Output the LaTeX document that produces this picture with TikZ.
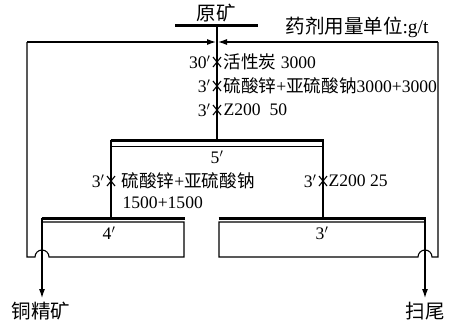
\documentclass[tikz,border=0pt]{standalone}
\usepackage{fontspec}
\setmainfont{Liberation Serif}
\newfontfamily\cjk{Noto Sans CJK SC}
\usetikzlibrary{arrows.meta}
\newcommand{\zh}[1]{{\cjk #1}}
\begin{document}
\begin{tikzpicture}[x=1pt,y=-1pt,
  line width=1.1pt,
  bar/.style={line width=3pt},
  thin bar/.style={line width=1pt},
  txt/.style={inner sep=0pt,font=\fontsize{17.6}{21}\selectfont},
  big/.style={inner sep=0pt,font=\fontsize{19.5}{23}\selectfont},
  arr/.style={-{Latex[length=9pt,width=6pt]}},
  crossmark/.style={line width=1.1pt}]
\useasboundingbox (0,0) rectangle (455,322);
% coordinates
\coordinate (fl) at (175,25); \coordinate (fr) at (258,25);
\coordinate (ftop) at (217,25);
\coordinate (cbar) at (217,140);
\coordinate (c5l) at (111,140); \coordinate (c5r) at (323,140);
\coordinate (c5lt) at (111,146); \coordinate (c5rt) at (323,146);
\coordinate (c4tl) at (42,218); \coordinate (c4tr) at (184,218);
\coordinate (c3tl) at (219,218); \coordinate (c3tr) at (425,218);
\coordinate (c5ld) at (111,218); \coordinate (c5rd) at (323,218);
\coordinate (conc) at (42,298); \coordinate (tail) at (425,298);
\coordinate (lin) at (216,42); \coordinate (rin) at (218,42);
% feed
\node[big] (feed) at (216,13) {\zh{原矿}};
\draw[bar] (fl) -- (fr);
\draw (ftop) -- (cbar);
\node[big,anchor=west] (unit) at (285,27) {\zh{药剂用量单位}:g/t};
% cell 5
\draw[bar] ([xshift=-0.5pt]c5l) -- ([xshift=0.5pt]c5r);
\draw[thin bar] (c5lt) -- (c5rt);
\draw (c5l) -- (c5ld);
\draw (c5r) -- (c5rd);
\node[txt] (l5) at (217,157) {5$'$};
% cell 4
\draw[bar] ([xshift=-0.5pt]c4tl) -- ([xshift=0.5pt]c4tr);
\draw (42,222) -- (184,222) -- (184,257) -- (49,257)
  arc[start angle=0,end angle=180,radius=7pt] -- (27,257) -- (27,42) coordinate (lc);
\draw[arr] (lc) -- (lin);
\node[txt] (l4) at (109,233) {4$'$};
% cell 3
\draw[bar] ([xshift=-0.5pt]c3tl) -- ([xshift=0.5pt]c3tr);
\draw (425,222) -- (219,222) -- (219,257) -- (418,257)
  arc[start angle=180,end angle=0,radius=7pt] -- (438,257) -- (438,42) coordinate (rc);
\draw[arr] (rc) -- (rin);
\node[txt] (l3) at (322,233) {3$'$};
% products
\draw[arr] (c4tl) -- (conc);
\draw[arr] (c3tr) -- (tail);
\node[big] (concl) at (41,311) {\zh{铜精矿}};
\node[big] (taill) at (425,311) {\zh{扫尾}};
% reagent marks
\foreach \x/\y/\n in {217/62/a,217/86/b,217/110/c,111/181/d,323/181/e}{
  \coordinate (m\n) at (\x,\y);
  \draw[crossmark] ([shift={(-4,-5)}]m\n) -- ([shift={(4,5)}]m\n);
  \draw[crossmark] ([shift={(4,-5)}]m\n) -- ([shift={(-4,5)}]m\n);
}
\node[txt,anchor=east] (ta1) at (211,62) {30$'$};
\node[txt,anchor=west] (ta2) at (223,62) {\zh{活性炭} 3000};
\node[txt,anchor=east] (tb1) at (211,86) {3$'$};
\node[txt,anchor=west] (tb2) at (223,86) {\zh{硫酸锌}+\zh{亚硫酸钠}3000+3000};
\node[txt,anchor=east] (tc1) at (211,110) {3$'$};
\node[txt,anchor=west] (tc2) at (223,110) {Z200\ \ 50};
\node[txt,anchor=east] (td1) at (105,181) {3$'$};
\node[txt,anchor=west] (td2) at (121,181) {\zh{硫酸锌}+\zh{亚硫酸钠}};
\node[txt,anchor=west] (td3) at (122,203) {1500+1500};
\node[txt,anchor=east] (te1) at (317,181) {3$'$};
\node[txt,anchor=west] (te2) at (328,181) {Z200 25};
\end{tikzpicture}
\end{document}
